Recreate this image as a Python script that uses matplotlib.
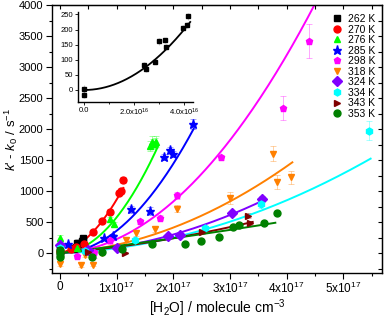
import numpy as np
import matplotlib
matplotlib.use("Agg")
import matplotlib.pyplot as plt
from matplotlib.ticker import MultipleLocator, FixedLocator

plt.rcParams['font.family'] = ['Liberation Sans', 'DejaVu Sans']
plt.rcParams['mathtext.fontset'] = 'custom'
plt.rcParams['mathtext.rm'] = 'Liberation Sans'
plt.rcParams['mathtext.it'] = 'Liberation Sans:italic'

# ---- data (x in units of 1e17 molecule cm^-3, y in s^-1) ----
labels = ['262 K', '270 K', '276 K', '285 K', '298 K', '318 K', '324 K', '334 K', '343 K', '353 K']
colors = ['#000000', '#ff0000', '#00ff00', '#0000ff', '#ff00ff', '#ff8000', '#8000ff', '#00ffff', '#800000', '#008000']
markers = ['s', 'o', '^', '*', 'p', 'v', 'D', 'h', '>', 'o']

x_262 = [0.0, 0.0, 0.241, 0.247, 0.284, 0.301, 0.324, 0.327, 0.397, 0.412, 0.415]
y_262 = [3, -18, 82, 69, 94, 161, 165, 144, 204, 215, 244]
e_262 = [15, 10, 10, 8, 8, 12, 8, 8, 10, 10, 12]

x_270 = [0.0, 0.2, 0.29, 0.42, 0.59, 0.75, 0.88, 1.05, 1.08, 1.12]
y_270 = [30, 60, 100, 150, 340, 525, 665, 975, 1000, 1180]
e_270 = [20, 20, 20, 25, 30, 30, 40, 45, 45, 50]

x_276 = [0.0, 0.3, 0.89, 0.95, 1.59, 1.62, 1.65, 1.68, 1.70]
y_276 = [240, 80, 545, 470, 1726, 1796, 1760, 1770, 1800]
e_276 = [60, 20, 40, 40, 80, 90, 80, 80, 90]

x_285 = [0.0, 0.15, 0.78, 0.94, 1.25, 1.59, 1.83, 1.94, 1.99, 2.35]
y_285 = [100, 150, 237, 280, 705, 677, 1553, 1661, 1597, 2080]
e_285 = [20, 20, 25, 30, 60, 60, 50, 50, 50, 80]

x_298 = [0.0, 0.3, 0.45, 0.6, 0.88, 1.41, 1.76, 2.06, 2.85, 3.94, 4.40]
y_298 = [60, -40, 50, 20, 215, 515, 570, 930, 1545, 2345, 3420]
e_298 = [30, 40, 30, 100, 60, 40, 40, 60, 40, 190, 270]

x_318 = [0.0, 0.37, 0.45, 0.59, 0.74, 1.16, 1.35, 1.68, 2.06, 3.0, 3.76, 3.83, 4.07]
y_318 = [-170, -190, -35, -185, 10, 220, 320, 385, 720, 890, 1600, 1150, 1220]
e_318 = [40, 30, 30, 30, 30, 40, 40, 40, 60, 100, 120, 110, 110]

x_324 = [0.0, 0.5, 1.0, 1.91, 2.12, 3.03, 3.56]
y_324 = [130, 50, 90, 275, 300, 650, 880]
e_324 = [20, 15, 20, 25, 25, 30, 40]

x_334 = [0.0, 0.45, 1.32, 2.56, 3.54, 5.46]
y_334 = [80, 30, 210, 400, 785, 1975]
e_334 = [20, 15, 20, 30, 50, 150]

x_343 = [0.0, 0.5, 1.15, 2.5, 3.32, 3.35]
y_343 = [50, 20, 10, 340, 600, 490]
e_343 = [15, 15, 15, 25, 40, 30]

x_353 = [0.0, 0.0, 0.0, 0.57, 0.74, 1.1, 1.62, 2.2, 2.49, 2.8, 3.06, 3.16, 3.6, 3.83]
y_353 = [50, -5, -60, -70, 20, 60, 140, 145, 200, 260, 415, 460, 490, 640]
e_353 = [15, 15, 15, 15, 15, 15, 20, 20, 20, 25, 25, 25, 30, 30]

# fit parameters: k = a*x + b*x^2  (x in 1e17), drawn from 0 to fit_xmax
fit_a = [0, 200, 0, 0, 34, 62, 40, 37, 80, 110]
fit_b = [1247, 660, 575, 360, 191, 72, 55, 44, 20, 5]
fit_xmax = [0.425, 1.12, 1.72, 2.36, 4.6, 4.1, 3.6, 5.48, 3.4, 3.8]

xs = [x_262, x_270, x_276, x_285, x_298, x_318, x_324, x_334, x_343, x_353]
ys = [y_262, y_270, y_276, y_285, y_298, y_318, y_324, y_334, y_343, y_353]
es = [e_262, e_270, e_276, e_285, e_298, e_318, e_324, e_334, e_343, e_353]

fig = plt.figure(figsize=(3.87, 3.18), dpi=100)
ax = fig.add_axes([0.134, 0.1415, 0.853, 0.8425])

for i in range(len(labels)):
    c = colors[i]
    ms = 6.5 if markers[i] == '*' else 5
    ax.errorbar(xs[i], ys[i], yerr=es[i], fmt='none', ecolor=c, alpha=0.35,
                elinewidth=0.7, capsize=2, capthick=0.7, zorder=2)
    ax.plot(xs[i], ys[i], linestyle='none', marker=markers[i], color=c, ms=ms,
            mec=c, label=labels[i], zorder=3)
    xf = np.linspace(0, fit_xmax[i], 200)
    ax.plot(xf, fit_a[i] * xf + fit_b[i] * xf ** 2, color=c, lw=1.4, zorder=2.5)

ax.set_xlim(-0.14, 5.68)
ax.set_ylim(-320, 4000)
ax.xaxis.set_major_locator(FixedLocator([0, 1, 2, 3, 4, 5]))
ax.xaxis.set_minor_locator(MultipleLocator(0.5))
ax.yaxis.set_major_locator(MultipleLocator(500))
ax.yaxis.set_minor_locator(MultipleLocator(250))
ax.set_xticklabels(['0'] + ['%dx10$^{17}$' % k for k in range(1, 6)])
ax.tick_params(axis='both', which='both', labelsize=8.5, direction='out', width=0.8)
ax.tick_params(which='major', length=4)
ax.tick_params(which='minor', length=2)
ax.tick_params(axis='y', pad=2, labelsize=8)
ax.tick_params(axis='x', pad=1.5)
for s in ax.spines.values():
    s.set_linewidth(1.0)

# inward ticks on top/right
axt = ax.secondary_xaxis('top')
axt.xaxis.set_major_locator(MultipleLocator(0.5))
axt.tick_params(direction='in', length=3, labeltop=False, width=0.8)
axr = ax.secondary_yaxis('right')
axr.yaxis.set_major_locator(MultipleLocator(250))
axr.tick_params(direction='in', length=3, labelright=False, width=0.8)

ax.set_xlabel('[H$_2$O] / molecule cm$^{-3}$', fontsize=10)
ax.xaxis.set_label_coords(0.5, -0.092)
ax.set_ylabel("$k$' - $k_0$ / s$^{-1}$", fontsize=9.5)
ax.yaxis.set_label_coords(-0.098, 0.5)

leg = ax.legend(loc='upper right', bbox_to_anchor=(1.0, 0.99), frameon=False,
                fontsize=7.5, handlelength=1.0, handletextpad=0.6,
                labelspacing=0.05, borderaxespad=0.2)

# ---- inset: 262 K ----
ins = fig.add_axes([0.2016, 0.679, 0.297, 0.283])
ins.errorbar([v * 1e17 for v in x_262], y_262, yerr=e_262, fmt='none', ecolor='k',
             alpha=0.25, elinewidth=0.6, capsize=0, zorder=2)
ins.plot([v * 1e17 for v in x_262], y_262, 's', color='k', ms=3, zorder=3)
xf = np.linspace(0, fit_xmax[0], 200)
ins.plot(xf * 1e17, fit_a[0] * xf + fit_b[0] * xf ** 2, color='k', lw=1.3)
ins.set_xlim(-0.24e16, 4.36e16)
ins.set_ylim(-40, 258)
ins.xaxis.set_major_locator(FixedLocator([0, 2e16, 4e16]))
ins.xaxis.set_minor_locator(FixedLocator([1e16, 3e16]))
ins.set_xticklabels(['0.0', '2.0x10$^{16}$', '4.0x10$^{16}$'])
ins.yaxis.set_major_locator(MultipleLocator(50))
ins.tick_params(labelsize=5.5, length=2, width=0.6, pad=1.5)
ins.tick_params(which='minor', length=1.5, width=0.6)
ins.spines['top'].set_visible(False)
ins.spines['right'].set_visible(False)
for s in ['left', 'bottom']:
    ins.spines[s].set_linewidth(1.0)
ins.patch.set_alpha(0)

fig.savefig('out.png', dpi=100)
